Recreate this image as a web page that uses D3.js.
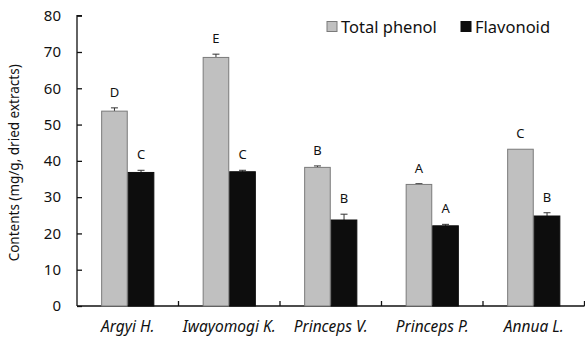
<!DOCTYPE html>
<html>
<head>
<meta charset="utf-8">
<script src="https://cdn.jsdelivr.net/npm/d3@7"></script>
<style>
body { margin: 0; background: #fff; }
svg text { font-family: "Noto Sans", "DejaVu Sans", sans-serif; fill: #111; }
</style>
</head>
<body>
<div id="chart"></div>
<script>
// values
var species = ["Argyi H.", "Iwayomogi K.", "Princeps V.", "Princeps P.", "Annua L."]
var seriesNames = ["Total phenol", "Flavonoid"]
var phenol = [53.7, 68.5, 38.2, 33.5, 43.2]
var phenolErr = [0.9, 0.9, 0.4, 0.2, 0]
var phenolLetters = ["D", "E", "B", "A", "C"]
var flavonoid = [36.8, 37.0, 23.7, 22.1, 24.8]
var flavonoidErr = [0.6, 0.4, 1.6, 0.4, 0.9]
var flavonoidLetters = ["C", "C", "B", "A", "B"]
var yTicks = [0, 10, 20, 30, 40, 50, 60, 70, 80]

var width = 585, height = 337
var margin = {top: 15.7, right: 0.5, bottom: 31, left: 77}
var colors = ["#c0c0c0", "#0d0d0d"]
var strokes = ["#7a7a7a", "#0d0d0d"]

var svg = d3.select("#chart").append("svg")
	.attr("width", width)
	.attr("height", height)

var x = d3.scaleBand()
	.domain(species)
	.range([margin.left, width - margin.right])

var y = d3.scaleLinear()
	.domain([0, 80])
	.range([height - margin.bottom, margin.top])

var bw = x.bandwidth() * 0.262

// y axis, ticks inside
var yAxis = svg.append("g")
	.attr("transform", "translate(" + margin.left + ",0)")
	.call(d3.axisRight(y).tickValues(yTicks).tickSize(5).tickFormat(d3.format("d")))
yAxis.select(".domain").attr("d", "M5," + y(80) + "H0V" + y(0)).attr("stroke", "#111").attr("stroke-width", 1.3)
yAxis.selectAll(".tick line").attr("stroke", "#111").attr("stroke-width", 1.3)
yAxis.selectAll(".tick text")
	.attr("x", -16)
	.attr("text-anchor", "end")
	.attr("font-size", 15)

// x axis, ticks on the category boundaries
var xAxis = svg.append("g")
	.attr("transform", "translate(0," + y(0) + ")")
xAxis.append("line")
	.attr("x1", margin.left).attr("x2", width - margin.right)
	.attr("stroke", "#111").attr("stroke-width", 1.3)
xAxis.selectAll(".bound").data(species)
	.enter().append("line")
	.attr("x1", function(d) { return x(d) + x.step() })
	.attr("x2", function(d) { return x(d) + x.step() })
	.attr("y1", 0).attr("y2", -5)
	.attr("stroke", "#111").attr("stroke-width", 1.3)
xAxis.selectAll(".lab").data(species)
	.enter().append("text")
	.attr("x", function(d) { return x(d) + x.bandwidth() / 2 })
	.attr("y", 26)
	.attr("text-anchor", "middle")
	.attr("font-size", 15.5)
	.attr("font-style", "italic")
	.text(function(d) { return d })

// y axis title
svg.append("text")
	.attr("transform", "translate(19," + ((y(0) + y(80)) / 2 + 2) + ") rotate(-90)")
	.attr("text-anchor", "middle")
	.attr("font-size", 13.5)
	.text("Contents (mg/g, dried extracts)")

var series = [
	{vals: phenol, err: phenolErr, letters: phenolLetters},
	{vals: flavonoid, err: flavonoidErr, letters: flavonoidLetters}
]

series.forEach(function(s, si) {
	var g = svg.append("g")
	var xpos = function(d, i) {
		var c = x(species[i]) + x.bandwidth() / 2
		return si == 0 ? c - bw : c
	}

	// error bars (upper only)
	g.selectAll(".err").data(s.vals)
		.enter().append("path")
		.attr("d", function(d, i) {
			if (!s.err[i]) return ""
			var cx = xpos(d, i) + bw / 2
			var top = y(d + s.err[i])
			return "M" + cx + "," + y(d) + "V" + top + "M" + (cx - 3.5) + "," + top + "H" + (cx + 3.5)
		})
		.attr("stroke", "#333")
		.attr("stroke-width", 1)
		.attr("fill", "none")

	g.selectAll("rect").data(s.vals)
		.enter().append("rect")
		.attr("x", function(d, i) { return xpos(d, i) + 0.5 })
		.attr("y", function(d) { return y(d) })
		.attr("width", bw - 1)
		.attr("height", function(d) { return y(0) - y(d) })
		.attr("fill", colors[si])
		.attr("stroke", strokes[si])
		.attr("stroke-width", 1)

	g.selectAll(".letter").data(s.vals)
		.enter().append("text")
		.attr("x", function(d, i) { return xpos(d, i) + bw / 2 })
		.attr("y", function(d, i) { return y(d + s.err[i]) - 11 })
		.attr("text-anchor", "middle")
		.attr("font-size", 13)
		.text(function(d, i) { return s.letters[i] })
})

// legend
var legendX = [327, 461]
var leg = svg.append("g")
seriesNames.forEach(function(name, i) {
	leg.append("rect")
		.attr("x", legendX[i]).attr("y", 21.5)
		.attr("width", 10).attr("height", 10)
		.attr("fill", colors[i])
		.attr("stroke", strokes[i])
	leg.append("text")
		.attr("x", legendX[i] + 14).attr("y", 32.5)
		.attr("font-size", 16.5)
		.text(name)
})
</script>
</body>
</html>
